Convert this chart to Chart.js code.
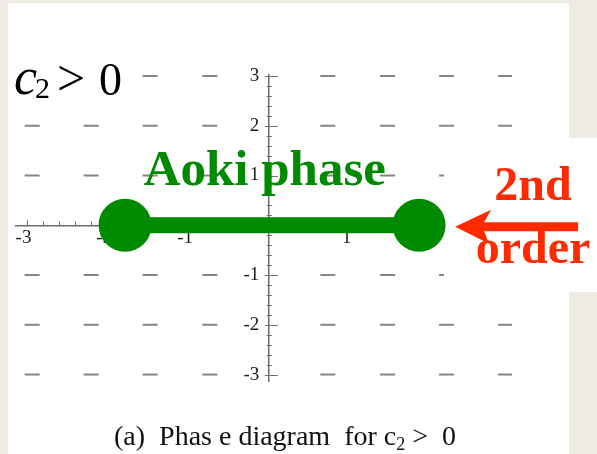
<!DOCTYPE html>
<html>
<head>
<meta charset="utf-8">
<script src="https://cdn.jsdelivr.net/npm/chart.js@4/dist/chart.umd.min.js"></script>
<style>
  html, body { margin: 0; padding: 0; background: #efebe4; }
  #wrap { width: 597px; height: 454px; }
  canvas { display: block; }
</style>
</head>
<body>
<div id="wrap"><canvas id="phase" width="597" height="454"></canvas></div>
<script>
// ---- values ----
// visible window of the (x, y) plane
const xRange = [-3.13, 3.01];
const yRange = [-3.13, 3.02];
// labelled integer ticks on both axes
const tickLabels = [-3, -2, -1, 1, 2, 3];
// small direction-field dashes: columns and rows
const fieldX = [-2.93, -2.2, -1.47, -0.73, 0.73, 1.47, 2.2, 2.93];
const fieldY = [-3, -2, -1, 1, 2, 3];
// the Aoki-phase segment on the y = 0 line (end points)
const aokiX = [-1.78, 1.86];
const aokiY = [0, 0];

// ---- styles ----
const SERIF = "'Liberation Serif', 'DejaVu Serif', serif";
const GREEN = '#008a00';
const RED = '#ff2a00';
const AXIS = '#6e6e6e';
const DASH = '#858585';

const fieldPoints = [];
fieldY.forEach(y => fieldX.forEach(x => fieldPoints.push({ x, y })));
const aokiPoints = aokiX.map((x, i) => ({ x, y: aokiY[i] }));

// tick values every 0.2 between the outer labelled ticks
const tickValues = [];
for (let k = -15; k <= 15; k++) tickValues.push(Math.round(k * 0.2 * 10) / 10);

const isLabelled = v => tickLabels.some(t => Math.abs(t - v) < 1e-6);
const fmt = v => (v < 0 ? '-' : '') + Math.abs(Math.round(v));

// page background, white sheet
const sheet = {
  id: 'sheet',
  beforeDraw(chart) {
    const c = chart.ctx;
    c.save();
    c.fillStyle = '#efebe4';
    c.fillRect(0, 0, chart.width, chart.height);
    c.fillStyle = '#ffffff';
    c.fillRect(8, 3, 561, 451);
    c.restore();
  },
  // small tick marks along both axes, crossing style
  beforeDatasetsDraw(chart) {
    const c = chart.ctx;
    const xs = chart.scales.x, ys = chart.scales.y;
    const x0 = xs.getPixelForValue(0), y0 = ys.getPixelForValue(0);
    c.save();
    c.strokeStyle = AXIS;
    c.lineWidth = 1;
    c.beginPath();
    tickValues.forEach(v => {
      if (v === 0) return;
      const major = isLabelled(v);
      const px = Math.round(xs.getPixelForValue(v)) + 0.5;
      c.moveTo(px, y0);
      c.lineTo(px, y0 - (major ? 5 : 4));
      const py = Math.round(ys.getPixelForValue(v)) + 0.5;
      if (major) { c.moveTo(x0 - 4, py); c.lineTo(x0 + 9, py); }
      else { c.moveTo(x0 - 2, py); c.lineTo(x0 + 3, py); }
    });
    c.stroke();
    c.restore();
  },
  // the label panel on the right sits above the field dashes
  afterDatasetDraw(chart, args) {
    if (args.index !== 1) return;
    const c = chart.ctx;
    c.save();
    c.fillStyle = '#ffffff';
    c.fillRect(444, 138, 153, 154);
    c.restore();
  },
  afterDraw(chart) {
    const c = chart.ctx;
    const xs = chart.scales.x, ys = chart.scales.y;
    const px = v => xs.getPixelForValue(v);
    const py = v => ys.getPixelForValue(v);
    c.save();

    // "Aoki phase"
    c.fillStyle = GREEN;
    c.font = `bold 51px ${SERIF}`;
    c.textAlign = 'center';
    c.textBaseline = 'alphabetic';
    c.fillText('Aoki phase', px(-0.05), py(0.8));

    // "2nd order" with arrow pointing at the right end point
    c.fillStyle = RED;
    c.font = `bold 48px ${SERIF}`;
    c.fillText('2nd', 533, py(0.5));
    c.fillText('order', 533, py(-0.76));

    const tipX = px(aokiX[1]) + 36, tipY = py(0) + 1.5;
    c.beginPath();
    c.moveTo(tipX, tipY);
    c.lineTo(tipX + 36, tipY - 17);
    c.lineTo(tipX + 29, tipY - 4.5);
    c.lineTo(tipX + 123, tipY - 4.5);
    c.lineTo(tipX + 123, tipY + 4.5);
    c.lineTo(tipX + 29, tipY + 4.5);
    c.lineTo(tipX + 34, tipY + 17);
    c.closePath();
    c.fill();

    // "c2 > 0" in the upper left
    c.fillStyle = '#ffffff';
    c.fillRect(10, 56, 124, 48);
    c.fillStyle = '#000000';
    c.textAlign = 'left';
    c.font = `italic 52px ${SERIF}`;
    c.fillText('c', 14, 94);
    c.font = `30px ${SERIF}`;
    c.fillText('2', 35, 98);
    c.font = `50px ${SERIF}`;
    c.fillText('>', 57, 95);
    c.font = `46px ${SERIF}`;
    c.fillText('0', 99, 95);

    // caption
    c.fillStyle = '#111111';
    const big = `28px ${SERIF}`, small = `18px ${SERIF}`;
    const parts = [
      { t: '(a)  Phas e diagram  for c', f: big, dy: 0 },
      { t: '2', f: small, dy: 5 },
      { t: ' >  0', f: big, dy: 0 }
    ];
    let total = 0;
    parts.forEach(p => { c.font = p.f; p.w = c.measureText(p.t).width; total += p.w; });
    let x = 285 - total / 2;
    parts.forEach(p => { c.font = p.f; c.fillText(p.t, x, 445 + p.dy); x += p.w; });

    c.restore();
  }
};

const tickFont = { family: SERIF, size: 19 };

new Chart(document.getElementById('phase'), {
  type: 'scatter',
  data: {
    datasets: [
      {
        label: 'Aoki phase',
        data: aokiPoints,
        showLine: true,
        borderColor: GREEN,
        backgroundColor: GREEN,
        borderWidth: 16,
        borderCapStyle: 'butt',
        pointRadius: 26.5,
        pointHoverRadius: 26.5,
        pointBackgroundColor: GREEN,
        pointBorderWidth: 0
      },
      {
        label: 'field',
        data: fieldPoints,
        showLine: false,
        pointStyle: 'line',
        pointRadius: 7.5,
        pointHoverRadius: 7.5,
        borderColor: DASH,
        pointBorderColor: DASH,
        pointBorderWidth: 2
      }
    ]
  },
  options: {
    responsive: false,
    animation: false,
    events: [],
    layout: { autoPadding: false, padding: { left: 16, right: 85, top: 75, bottom: 73 } },
    plugins: { legend: { display: false }, tooltip: { enabled: false } },
    scales: {
      x: {
        type: 'linear',
        min: xRange[0],
        max: xRange[1],
        position: { y: 0 },
        afterFit(s) { s.height = 0; s.paddingLeft = 0; s.paddingRight = 0; },
        afterBuildTicks(s) { s.ticks = tickValues.map(v => ({ value: v })); },
        grid: { display: false, drawTicks: false },
        border: { display: true, color: AXIS, width: 1.5 },
        ticks: {
          autoSkip: false,
          maxRotation: 0,
          padding: 1,
          labelOffset: -3,
          color: '#1a1a1a',
          font: tickFont,
          callback: v => (isLabelled(v) ? fmt(v) : '')
        }
      },
      y: {
        type: 'linear',
        min: yRange[0],
        max: yRange[1],
        position: { x: 0 },
        afterFit(s) { s.width = 0; s.paddingTop = 0; s.paddingBottom = 0; },
        afterBuildTicks(s) { s.ticks = tickValues.map(v => ({ value: v })); },
        grid: { display: false, drawTicks: false },
        border: { display: true, color: AXIS, width: 1.5 },
        ticks: {
          autoSkip: false,
          color: '#1a1a1a',
          font: tickFont,
          callback: v => (isLabelled(v) ? fmt(v) + '\u2002' : '')
        }
      }
    }
  },
  plugins: [sheet]
});
</script>
</body>
</html>
